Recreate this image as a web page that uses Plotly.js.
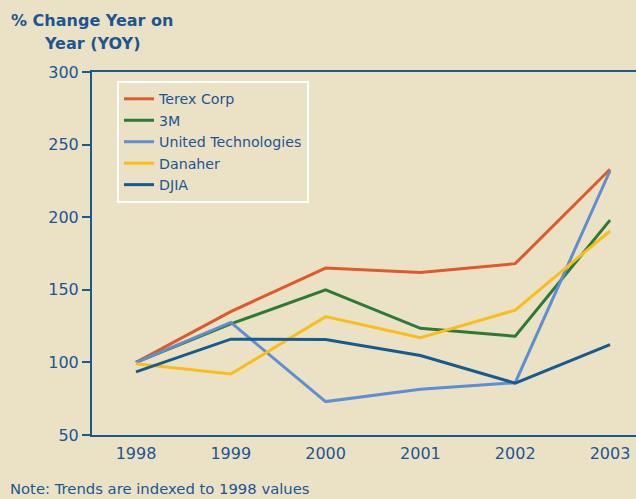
<!DOCTYPE html>
<html><head><meta charset="utf-8">
<script src="https://cdn.plot.ly/plotly-3.0.1.min.js"></script>
<style>html,body{margin:0;padding:0;background:#ebe2c6;}#chart{width:636px;height:499px;}</style>
</head><body><div id="chart"></div>
<script>
const years = [1998, 1999, 2000, 2001, 2002, 2003];
const yearLabels = ['1998','1999','2000','2001','2002','2003'];
const terex = [100, 135, 165, 162, 168, 233];
const mmm = [100, 126.5, 150, 123.5, 118, 198];
const utx = [100, 127.5, 73, 81.5, 86, 232];
const danaher = [99, 92, 131.5, 117, 136, 190.5];
const djia = [93.5, 116, 115.7, 104.7, 85.7, 112.3];
const seriesNames = ['Terex Corp', '3M', 'United Technologies', 'Danaher', 'DJIA'];
const seriesData = [terex, mmm, utx, danaher, djia];
const seriesColors = ['#de5a2b', '#2b7a35', '#5e8fd2', '#fbbd1a', '#165b8e'];
const titleLines = ['% Change Year on', 'Year (YOY)'];
const blue = '#1c5593';

const traces = seriesData.map((d, i) => ({
  x: years, y: d, name: seriesNames[i], type: 'scatter', mode: 'lines',
  line: {color: seriesColors[i], width: 3}
}));

const layout = {
  width: 636, height: 499,
  paper_bgcolor: '#ebe2c6', plot_bgcolor: '#ebe2c6',
  margin: {l: 92, r: 0, t: 72, b: 64},
  font: {family: '"DejaVu Sans", sans-serif', color: blue, size: 16},
  showlegend: true,
  legend: {
    x: 0.046, y: 0.975, xanchor: 'left', yanchor: 'top',
    bgcolor: 'rgba(0,0,0,0)', bordercolor: '#ffffff', borderwidth: 2,
    font: {size: 14.2, color: blue}, tracegroupgap: 0, itemwidth: 30
  },
  xaxis: {
    range: [1997.536, 2003.274], tickvals: years, ticktext: yearLabels,
    showgrid: false, zeroline: false, showline: true, mirror: true,
    linecolor: '#1b5a8c', linewidth: 2, ticks: 'outside', ticklen: 3, tickcolor: 'rgba(0,0,0,0)',
    tickfont: {size: 16, color: blue}
  },
  yaxis: {
    range: [50, 300], tickvals: [50, 100, 150, 200, 250, 300],
    showgrid: false, zeroline: false, showline: true,
    linecolor: '#1b5a8c', linewidth: 2, ticks: 'outside', ticklen: 8,
    tickwidth: 2, tickcolor: '#1b5a8c', tickfont: {size: 16, color: blue}
  },
  annotations: [
    {text: '<b>' + titleLines[0] + '</b>', xref: 'paper', yref: 'paper',
     x: 0, y: 1, yshift: 52, xanchor: 'center', yanchor: 'middle',
     showarrow: false, font: {size: 16, color: blue}},
    {text: '<b>' + titleLines[1] + '</b>', xref: 'paper', yref: 'paper',
     x: 0, y: 1, yshift: 29, xanchor: 'center', yanchor: 'middle',
     showarrow: false, font: {size: 16, color: blue}},
    {text: 'Note: Trends are indexed to 1998 values', xref: 'paper', yref: 'paper',
     x: 0, y: 0, xshift: -84, yshift: -64, xanchor: 'left', yanchor: 'bottom',
     showarrow: false, font: {size: 14.8, color: blue}}
  ]
};
Plotly.newPlot('chart', traces, layout, {staticPlot: true});
</script></body></html>
